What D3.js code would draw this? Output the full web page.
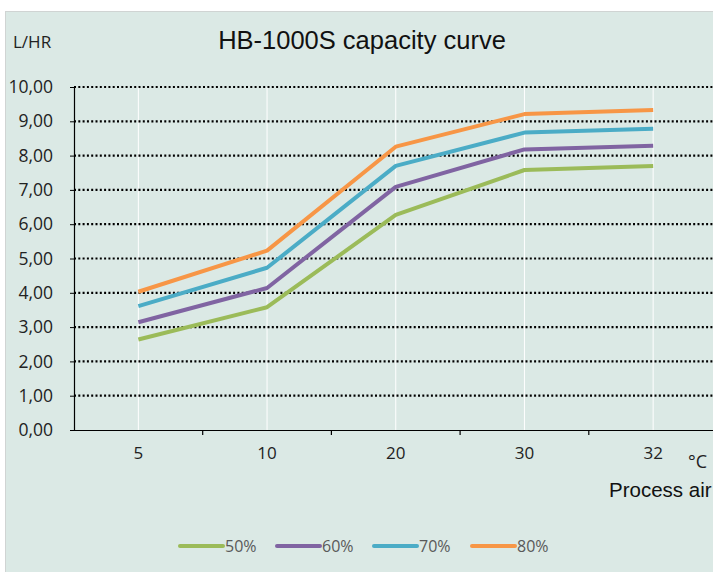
<!DOCTYPE html>
<html>
<head>
<meta charset="utf-8">
<script src="https://cdn.jsdelivr.net/npm/d3@7"></script>
<style>
body{margin:0;background:#fff;overflow:hidden;}
text{font-family:"Open Sans","Noto Sans",sans-serif;}
</style>
</head>
<body>
<div id="chart"></div>
<script>
var w=713;
var h=572;

var categories=["5","10","20","30","32"];
var seriesNames=["50%","60%","70%","80%"];
var colors=["#9bbb59","#8064a2","#4bacc6","#f79646"];
var v50=[2.64,3.58,6.27,7.58,7.70];
var v60=[3.14,4.14,7.09,8.18,8.29];
var v70=[3.61,4.73,7.70,8.67,8.78];
var v80=[4.03,5.23,8.26,9.21,9.33];
var yTicks=[0,1,2,3,4,5,6,7,8,9,10];

var series=[v50,v60,v70,v80];

var svg=d3.select("#chart")
  .append("svg")
  .attr("width",w)
  .attr("height",h);

// panel background
svg.append("rect")
  .attr("x",5.5).attr("y",11.5)
  .attr("width",w).attr("height",h)
  .attr("fill","#dbe9e5")
  .attr("stroke","#d0d4d3");

var plotLeft=74, plotTop=87, plotBottom=430;
var x=d3.scaleBand()
  .domain(categories)
  .range([plotLeft,plotLeft+5*128.7]);
var y=d3.scaleLinear().domain([0,10]).range([plotBottom,plotTop]);

// white vertical grid at category centres
svg.selectAll("line.vgrid")
  .data(categories)
  .enter()
  .append("line")
  .attr("class","vgrid")
  .attr("x1",function(d){return x(d)+x.bandwidth()/2;})
  .attr("x2",function(d){return x(d)+x.bandwidth()/2;})
  .attr("y1",plotTop).attr("y2",plotBottom)
  .attr("stroke","#ffffff")
  .attr("stroke-width",1);

// dotted horizontal grid
svg.selectAll("line.hgrid")
  .data(yTicks.slice(1))
  .enter()
  .append("line")
  .attr("class","hgrid")
  .attr("x1",plotLeft).attr("x2",w)
  .attr("y1",function(d){return y(d);})
  .attr("y2",function(d){return y(d);})
  .attr("stroke","#000")
  .attr("stroke-width",2.2)
  .attr("stroke-dasharray","2,2.3");

// y axis
var yAxis=d3.axisLeft(y)
  .tickValues(yTicks)
  .tickSize(4)
  .tickFormat(function(d){return d3.format(".2f")(d).replace(".",",");});
var gy=svg.append("g")
  .attr("transform","translate("+plotLeft+",0)")
  .call(yAxis);
gy.select(".domain").attr("stroke","#000").attr("stroke-width",1.2);
gy.selectAll(".tick line").attr("stroke","#000");
gy.selectAll(".tick text")
  .attr("x",-21)
  .attr("font-size",17.5)
  .attr("fill","#222")
  .style("font-family","'Open Sans',sans-serif");

// x axis
var xAxis=d3.axisBottom(x).tickSize(0).tickSizeOuter(0);
var gx=svg.append("g")
  .attr("transform","translate(0,"+plotBottom+")")
  .call(xAxis);
gx.select(".domain").attr("stroke","#000").attr("stroke-width",1.2);
gx.selectAll(".tick text")
  .attr("y",17)
  .attr("font-size",17)
  .attr("fill","#222");
// boundary ticks
svg.selectAll("line.xtick")
  .data(categories)
  .enter()
  .append("line")
  .attr("class","xtick")
  .attr("x1",function(d){return x(d)+x.bandwidth();})
  .attr("x2",function(d){return x(d)+x.bandwidth();})
  .attr("y1",plotBottom).attr("y2",plotBottom+5)
  .attr("stroke","#000")
  .attr("stroke-width",1.2);

// lines
var line=d3.line()
  .x(function(d,i){return x(categories[i])+x.bandwidth()/2;})
  .y(function(d){return y(d);});

svg.selectAll("path.series")
  .data(series)
  .enter()
  .append("path")
  .attr("class","series")
  .attr("d",line)
  .attr("fill","none")
  .attr("stroke",function(d,i){return colors[i];})
  .attr("stroke-width",4)
  .attr("stroke-linejoin","round");

// titles
svg.append("text")
  .attr("x",362).attr("y",49)
  .attr("text-anchor","middle")
  .attr("font-size",25.5)
  .style("font-family","'Liberation Sans',Arial,sans-serif")
  .attr("fill","#111")
  .text("HB-1000S capacity curve");

svg.append("text")
  .attr("x",13).attr("y",48)
  .attr("font-size",17)
  .attr("fill","#222")
  .text("L/HR");

svg.append("text")
  .attr("x",688).attr("y",468)
  .attr("font-size",18)
  .attr("fill","#222")
  .text("°C");

svg.append("text")
  .attr("x",609).attr("y",497)
  .attr("font-size",20.5)
  .style("font-family","'Liberation Sans',Arial,sans-serif")
  .attr("fill","#111")
  .text("Process air");

// legend
var lx=[180,277,374,472];
var lg=svg.selectAll("g.legend")
  .data(seriesNames)
  .enter()
  .append("g")
  .attr("class","legend")
  .attr("transform",function(d,i){return "translate("+lx[i]+",546)";});
lg.append("line")
  .attr("x1",0).attr("x2",43)
  .attr("stroke",function(d,i){return colors[i];})
  .attr("stroke-width",4)
  .attr("stroke-linecap","round");
lg.append("text")
  .attr("x",45).attr("y",6)
  .attr("font-size",16)
  .attr("fill","#595959")
  .text(function(d){return d;});
</script>
</body>
</html>
